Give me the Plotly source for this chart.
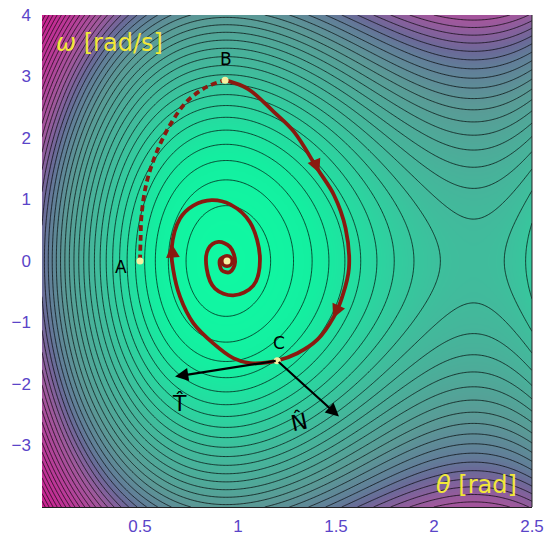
import numpy as np
import plotly.graph_objects as go

# ---- data ----
THETA_EQ = 0.94          # centre of the well [rad]
STIFFNESS = 30.0         # potential scale (energy in omega^2/2 units)
LEVEL_START = 0.405
LEVEL_SIZE = 0.465
LEVEL_END = 20.0

# dashed part A -> B
dash_theta = [0.500, 0.503, 0.508, 0.534, 0.585, 0.653, 0.738, 0.840, 0.934]
dash_omega = [0.000, 0.350, 0.750, 1.280, 1.770, 2.210, 2.590, 2.830, 2.940]

# solid spiral B -> C -> centre
path_theta = [0.934, 1.050, 1.184, 1.286, 1.405, 1.490, 1.549, 1.566, 1.532, 1.490,
              1.405, 1.303, 1.200, 1.061, 0.976, 0.874, 0.772, 0.704, 0.670, 0.661,
              0.704, 0.772, 0.866, 0.960, 1.061, 1.112, 1.078, 0.976, 0.883, 0.840,
              0.849, 0.900, 0.959, 0.985, 0.959, 0.917, 0.908, 0.930, 0.944]
path_omega = [2.940, 2.800, 2.420, 2.100, 1.500, 1.070, 0.530, -0.120, -0.580, -0.900,
              -1.280, -1.500, -1.620, -1.660, -1.580, -1.340, -1.010, -0.580, -0.150, 0.200,
              0.690, 0.900, 0.990, 0.920, 0.630, 0.040, -0.400, -0.560, -0.450, -0.120,
              0.200, 0.310, 0.230, -0.020, -0.180, -0.150, 0.020, 0.060, 0.000]

point_names = ["A", "B", "C", ""]
point_theta = [0.500, 0.934, 1.200, 0.944]
point_omega = [0.000, 2.940, -1.620, 0.000]

x_ticks = [0.5, 1, 1.5, 2, 2.5]
y_ticks = [-3, -2, -1, 0, 1, 2, 3, 4]

# ---- energy field ----
th = np.linspace(0, 2.5, 351)
om = np.linspace(-4, 4, 361)
TH, OM = np.meshgrid(th, om)
a = np.sin(THETA_EQ)
Vmin = -np.cos(THETA_EQ) - a * THETA_EQ
E = OM ** 2 / 2 + STIFFNESS * (-np.cos(TH) - a * TH - Vmin)

colorscale = [
    [0.00, "#10f8a2"],
    [0.08, "#14eea0"],
    [0.16, "#28d8a0"],
    [0.26, "#40bc9c"],
    [0.43, "#5a9a96"],
    [0.53, "#627c98"],
    [0.57, "#6a6a98"],
    [0.62, "#86609c"],
    [0.67, "#a0589c"],
    [0.80, "#b83c98"],
    [1.00, "#cc2090"],
]

fig = go.Figure()
fig.add_trace(go.Contour(
    x=th, y=om, z=E, zmin=0, zmax=18.5,
    colorscale=colorscale, showscale=False,
    contours=dict(start=LEVEL_START, end=LEVEL_END, size=LEVEL_SIZE, coloring="heatmap"),
    line=dict(color="rgba(0,0,0,0.85)", width=0.8),
    hoverinfo="skip",
))

RED = "#8a1a10"
fig.add_trace(go.Scatter(x=dash_theta, y=dash_omega, mode="lines",
                         line=dict(color=RED, width=3.8, dash="6px,4px", shape="spline"),
                         hoverinfo="skip"))
fig.add_trace(go.Scatter(x=path_theta, y=path_omega, mode="lines",
                         line=dict(color=RED, width=3.8, shape="spline", smoothing=1.0),
                         hoverinfo="skip"))
# red blob at the centre
fig.add_trace(go.Scatter(x=[point_theta[3]], y=[point_omega[3]], mode="markers",
                         marker=dict(color=RED, size=14), hoverinfo="skip"))
fig.add_trace(go.Scatter(x=point_theta, y=point_omega, mode="markers",
                         marker=dict(color="#f6f0a0", size=7), hoverinfo="skip"))

ann = []
# trajectory arrowheads
for (tx, ty, sx, sy) in [(1.415, 1.43, 1.395, 1.58), (1.485, -0.93, 1.515, -0.72),
                         (0.662, 0.28, 0.668, 0.05)]:
    ann.append(dict(x=tx, y=ty, ax=sx, ay=sy, xref="x", yref="y", axref="x", ayref="y",
                    text="", showarrow=True, arrowhead=2, arrowsize=1.1, arrowwidth=2.5,
                    arrowcolor=RED))
# T and N vectors
ann.append(dict(x=0.679, y=-1.88, ax=1.2, ay=-1.62, xref="x", yref="y", axref="x", ayref="y",
                text="", showarrow=True, arrowhead=2, arrowsize=1.2, arrowwidth=2.2,
                arrowcolor="black"))
ann.append(dict(x=1.515, y=-2.53, ax=1.2, ay=-1.62, xref="x", yref="y", axref="x", ayref="y",
                text="", showarrow=True, arrowhead=2, arrowsize=1.2, arrowwidth=2.2,
                arrowcolor="black"))

lab_font = dict(family="DejaVu Sans", size=17, color="black")
ann.append(dict(x=0.405, y=-0.1, text="A", showarrow=False, font=lab_font))
ann.append(dict(x=0.94, y=3.28, text="B", showarrow=False, font=lab_font))
ann.append(dict(x=1.21, y=-1.33, text="C", showarrow=False, font=lab_font))
ann.append(dict(x=0.704, y=-2.31, text="T̂", showarrow=False,
                font=dict(family="DejaVu Sans", size=22, color="black")))
ann.append(dict(x=1.31, y=-2.62, text="N̂", showarrow=False, textangle=-12,
                font=dict(family="DejaVu Sans", size=22, color="black")))

YEL = "#f2e838"
ann.append(dict(x=0.06, y=3.55, xanchor="left", yanchor="middle", showarrow=False,
                text="<i>ω</i> [rad/s]", font=dict(family="DejaVu Sans", size=24, color=YEL)))
ann.append(dict(x=2.0, y=-3.64, xanchor="left", yanchor="middle", showarrow=False,
                text="<i>θ</i> [rad]", font=dict(family="DejaVu Sans", size=24, color=YEL)))

tick_font = dict(family="Liberation Sans", size=17, color="#5a44c8")
fig.update_layout(
    width=548, height=536,
    margin=dict(l=42, r=16, t=15, b=29, autoexpand=False),
    paper_bgcolor="white", plot_bgcolor="white",
    showlegend=False,
    annotations=ann,
    xaxis=dict(range=[0, 2.5], tickvals=x_ticks, ticktext=[str(v) for v in x_ticks],
               showgrid=False, zeroline=False, tickfont=tick_font, ticks="",
               showline=True, linecolor="#202020", linewidth=1, ticklabelstandoff=4,
               automargin=False, ticklabeloverflow="allow"),
    yaxis=dict(range=[-4, 4], tickvals=y_ticks, ticktext=[str(v).replace("-", "−") for v in y_ticks],
               showgrid=False, zeroline=False, tickfont=tick_font, ticks="",
               ticklabelstandoff=10, automargin=False, ticklabeloverflow="allow"),
    shapes=[dict(type="line", xref="paper", yref="paper", x0=1, x1=1, y0=0, y1=1,
                 line=dict(color="#202020", width=1))],
)
fig.write_html("out.html", config={"displayModeBar": False},
               post_script="document.body.style.margin='0';document.body.style.overflow='hidden';")
